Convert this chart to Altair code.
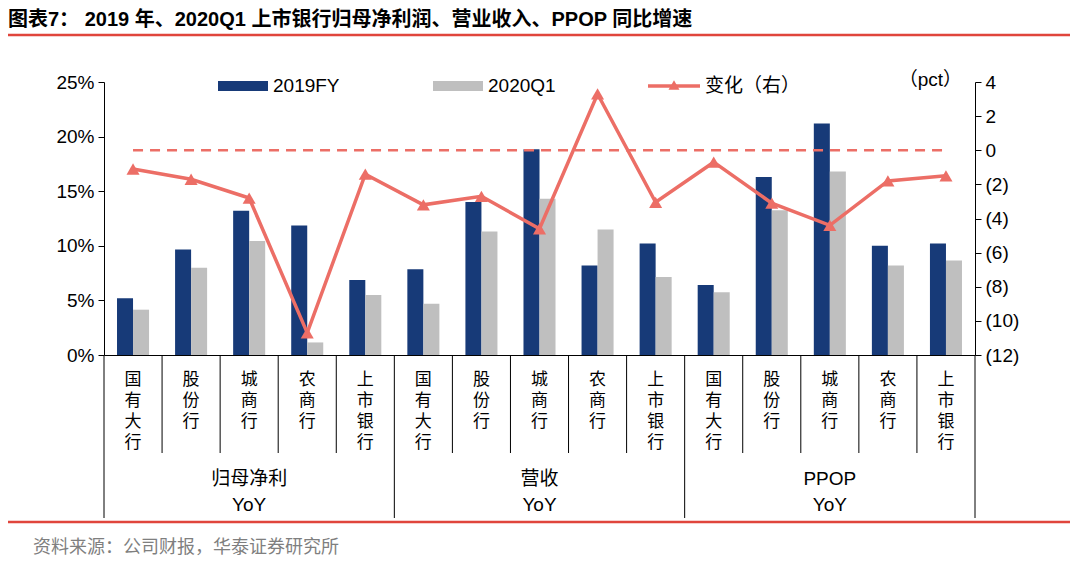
import altair as alt
import pandas as pd

FONT = "Liberation Sans, Arial, Noto Sans CJK SC"
CJK = "Noto Sans CJK SC, Liberation Sans"

# ---- data ----
categories = ["国有大行", "股份行", "城商行", "农商行", "上市银行"] * 3
groups = ["归母净利", "营收", "PPOP"]
fy2019 = [5.2, 9.65, 13.2, 11.85, 6.87, 7.85, 14.0, 18.85, 8.2, 10.2, 6.4, 16.3, 21.2, 10.0, 10.2]
q12020 = [4.15, 8.0, 10.45, 1.15, 5.5, 4.7, 11.3, 14.3, 11.5, 7.15, 5.75, 13.25, 16.8, 8.2, 8.65]
change = [-1.1, -1.7, -2.8, -10.7, -1.4, -3.2, -2.7, -4.6, 3.3, -3.05, -0.7, -3.1, -4.4, -1.8, -1.5]
left_ticks = [0, 5, 10, 15, 20, 25]
right_ticks = [-12, -10, -8, -6, -4, -2, 0, 2, 4]
series = ["2019FY", "2020Q1"]

NAVY = "#173A78"
GRAY = "#BFBFBF"
RED = "#EC6E66"
RULE_RED = "#E0453C"

W, H = 871, 273

keys = [f"{i:02d}" for i in range(len(categories))]
df = pd.DataFrame({
    "key": keys,
    "fy": fy2019,
    "q1": q12020,
    "change": change,
    "zero": [0] * len(keys),
})
bars_df = pd.concat([
    pd.DataFrame({"key": keys, "series": series[0], "value": fy2019}),
    pd.DataFrame({"key": keys, "series": series[1], "value": q12020}),
])
grp_df = pd.DataFrame({"key": [keys[2], keys[7], keys[12]], "g": groups, "yoy": ["YoY"] * 3})
short_sep = pd.DataFrame({"key": [k for i, k in enumerate(keys) if i % 5 != 0]})
long_sep = pd.DataFrame({"key": [k for i, k in enumerate(keys) if i % 5 == 0]})
one = pd.DataFrame({"a": [0]})

x_enc = alt.X("key:N", sort=keys, scale=alt.Scale(paddingInner=0, paddingOuter=0),
              axis=alt.Axis(labels=False, ticks=False, title=None, domainColor="black", domainWidth=1))

left_axis = alt.Axis(values=left_ticks, labelExpr="datum.value + '%'", title=None, grid=False,
                     domainColor="black", tickColor="black", tickSize=6, labelFont=FONT,
                     labelFontSize=19, labelColor="black", labelPadding=4)
right_axis = alt.Axis(values=right_ticks, orient="right", title=None, grid=False,
                      labelExpr="datum.value < 0 ? '(' + abs(datum.value) + ')' : '' + datum.value",
                      domainColor="black", tickColor="black", tickSize=6, labelFont=FONT,
                      labelFontSize=19, labelColor="black", labelPadding=4)

bars = alt.Chart(bars_df).mark_bar().encode(
    x=x_enc,
    xOffset=alt.XOffset("series:N", sort=series,
                        scale=alt.Scale(paddingInner=0, paddingOuter=0.8125)),
    y=alt.Y("value:Q", scale=alt.Scale(domain=[0, 25], nice=False), axis=left_axis),
    color=alt.Color("series:N", scale=alt.Scale(domain=series, range=[NAVY, GRAY]), legend=None),
)

yr = alt.Scale(domain=[-12, 4], nice=False)
zero_line = alt.Chart(df).mark_line(color=RED, strokeWidth=2.5, strokeDash=[10, 7]).encode(
    x=x_enc, y=alt.Y("zero:Q", scale=yr, axis=right_axis))
chg_line = alt.Chart(df).mark_line(color=RED, strokeWidth=3.5).encode(
    x=x_enc, y=alt.Y("change:Q", scale=yr, axis=right_axis))
chg_pts = alt.Chart(df).mark_point(shape="triangle-up", filled=True, opacity=1, size=170, color=RED).encode(
    x=x_enc, y=alt.Y("change:Q", scale=yr, axis=right_axis))

# category separators & labels (one character per row, stacked vertically)
sep_s = alt.Chart(short_sep).mark_rule(color="black", strokeWidth=1).encode(
    x=alt.X("key:N", sort=keys, bandPosition=0), y=alt.value(H), y2=alt.value(371))
sep_l = alt.Chart(long_sep).mark_rule(color="black", strokeWidth=1).encode(
    x=alt.X("key:N", sort=keys, bandPosition=0), y=alt.value(H), y2=alt.value(436))
sep_r = alt.Chart(one).mark_rule(color="black", strokeWidth=1).encode(
    x=alt.value(W), y=alt.value(H), y2=alt.value(436))

cat_layers = []
for r in range(4):
    rows = [(k, c[r]) for k, c in zip(keys, categories) if len(c) > r]
    rdf = pd.DataFrame(rows, columns=["key", "ch"])
    cat_layers.append(
        alt.Chart(rdf).mark_text(baseline="middle", font=FONT, fontSize=17, color="black").encode(
            x=x_enc, y=alt.value(298 + 21 * r), text="ch:N"))

grp_txt = alt.Chart(grp_df).mark_text(baseline="middle", font=FONT, fontSize=19, color="black").encode(
    x=x_enc, y=alt.value(397), text="g:N")
yoy_txt = alt.Chart(grp_df).mark_text(baseline="middle", font=FONT, fontSize=19, color="black").encode(
    x=x_enc, y=alt.value(423), text="yoy:N")

# title, rules, source
title = alt.Chart(one).mark_text(text="图表7：  2019 年、2020Q1 上市银行归母净利润、营业收入、PPOP 同比增速",
                                 align="left", baseline="middle", font=FONT, fontSize=20,
                                 fontWeight="bold", color="black").encode(x=alt.value(-96), y=alt.value(-62))
top_rule = alt.Chart(one).mark_rule(color=RULE_RED, strokeWidth=2.5).encode(
    x=alt.value(-96), x2=alt.value(966), y=alt.value(-47))
bot_rule = alt.Chart(one).mark_rule(color=RULE_RED, strokeWidth=2.5).encode(
    x=alt.value(-96), x2=alt.value(966), y=alt.value(440))
source = alt.Chart(one).mark_text(text="资料来源：公司财报，华泰证券研究所", align="left", baseline="middle",
                                  font=CJK, fontSize=18, color="#7F7F7F").encode(x=alt.value(-71), y=alt.value(466))

# legend
leg_fy = alt.Chart(one).mark_rect(color=NAVY).encode(
    x=alt.value(114), x2=alt.value(164), y=alt.value(-1), y2=alt.value(9))
leg_q1 = alt.Chart(one).mark_rect(color=GRAY).encode(
    x=alt.value(329), x2=alt.value(379), y=alt.value(-1), y2=alt.value(9))
leg_ln = alt.Chart(one).mark_rule(color=RED, strokeWidth=3.5).encode(
    x=alt.value(544), x2=alt.value(596), y=alt.value(4))
leg_pt = alt.Chart(one).mark_point(shape="triangle-up", filled=True, opacity=1, size=120, color=RED).encode(
    x=alt.value(570), y=alt.value(3))
leg_t1 = alt.Chart(one).mark_text(text="2019FY", align="left", baseline="middle", font=FONT,
                                  fontSize=19, color="black").encode(x=alt.value(169), y=alt.value(4))
leg_t2 = alt.Chart(one).mark_text(text="2020Q1", align="left", baseline="middle", font=FONT,
                                  fontSize=19, color="black").encode(x=alt.value(384), y=alt.value(4))
leg_t3 = alt.Chart(one).mark_text(text="变化（右）", align="left", baseline="middle", font=CJK,
                                  fontSize=19, color="black").encode(x=alt.value(601), y=alt.value(4))
pct = alt.Chart(one).mark_text(text="（pct）", align="right", baseline="middle", font=FONT,
                               fontSize=19, color="black").encode(x=alt.value(858), y=alt.value(-2))

left = alt.layer(bars, sep_s, sep_l, sep_r, *cat_layers, grp_txt, yoy_txt, title, top_rule, bot_rule,
                 source, leg_fy, leg_q1, leg_ln, leg_pt, leg_t1, leg_t2, leg_t3, pct)
right = alt.layer(zero_line, chg_line, chg_pts)

chart = alt.layer(left, right).resolve_scale(y="independent").properties(
    width=W, height=H,
    autosize=alt.AutoSizeParams(type="none"),
    padding={"left": 96, "top": 74, "right": 97, "bottom": 205},
).configure_view(stroke=None)

chart.save("out.html", embed_options={"renderer": "svg", "actions": False})
